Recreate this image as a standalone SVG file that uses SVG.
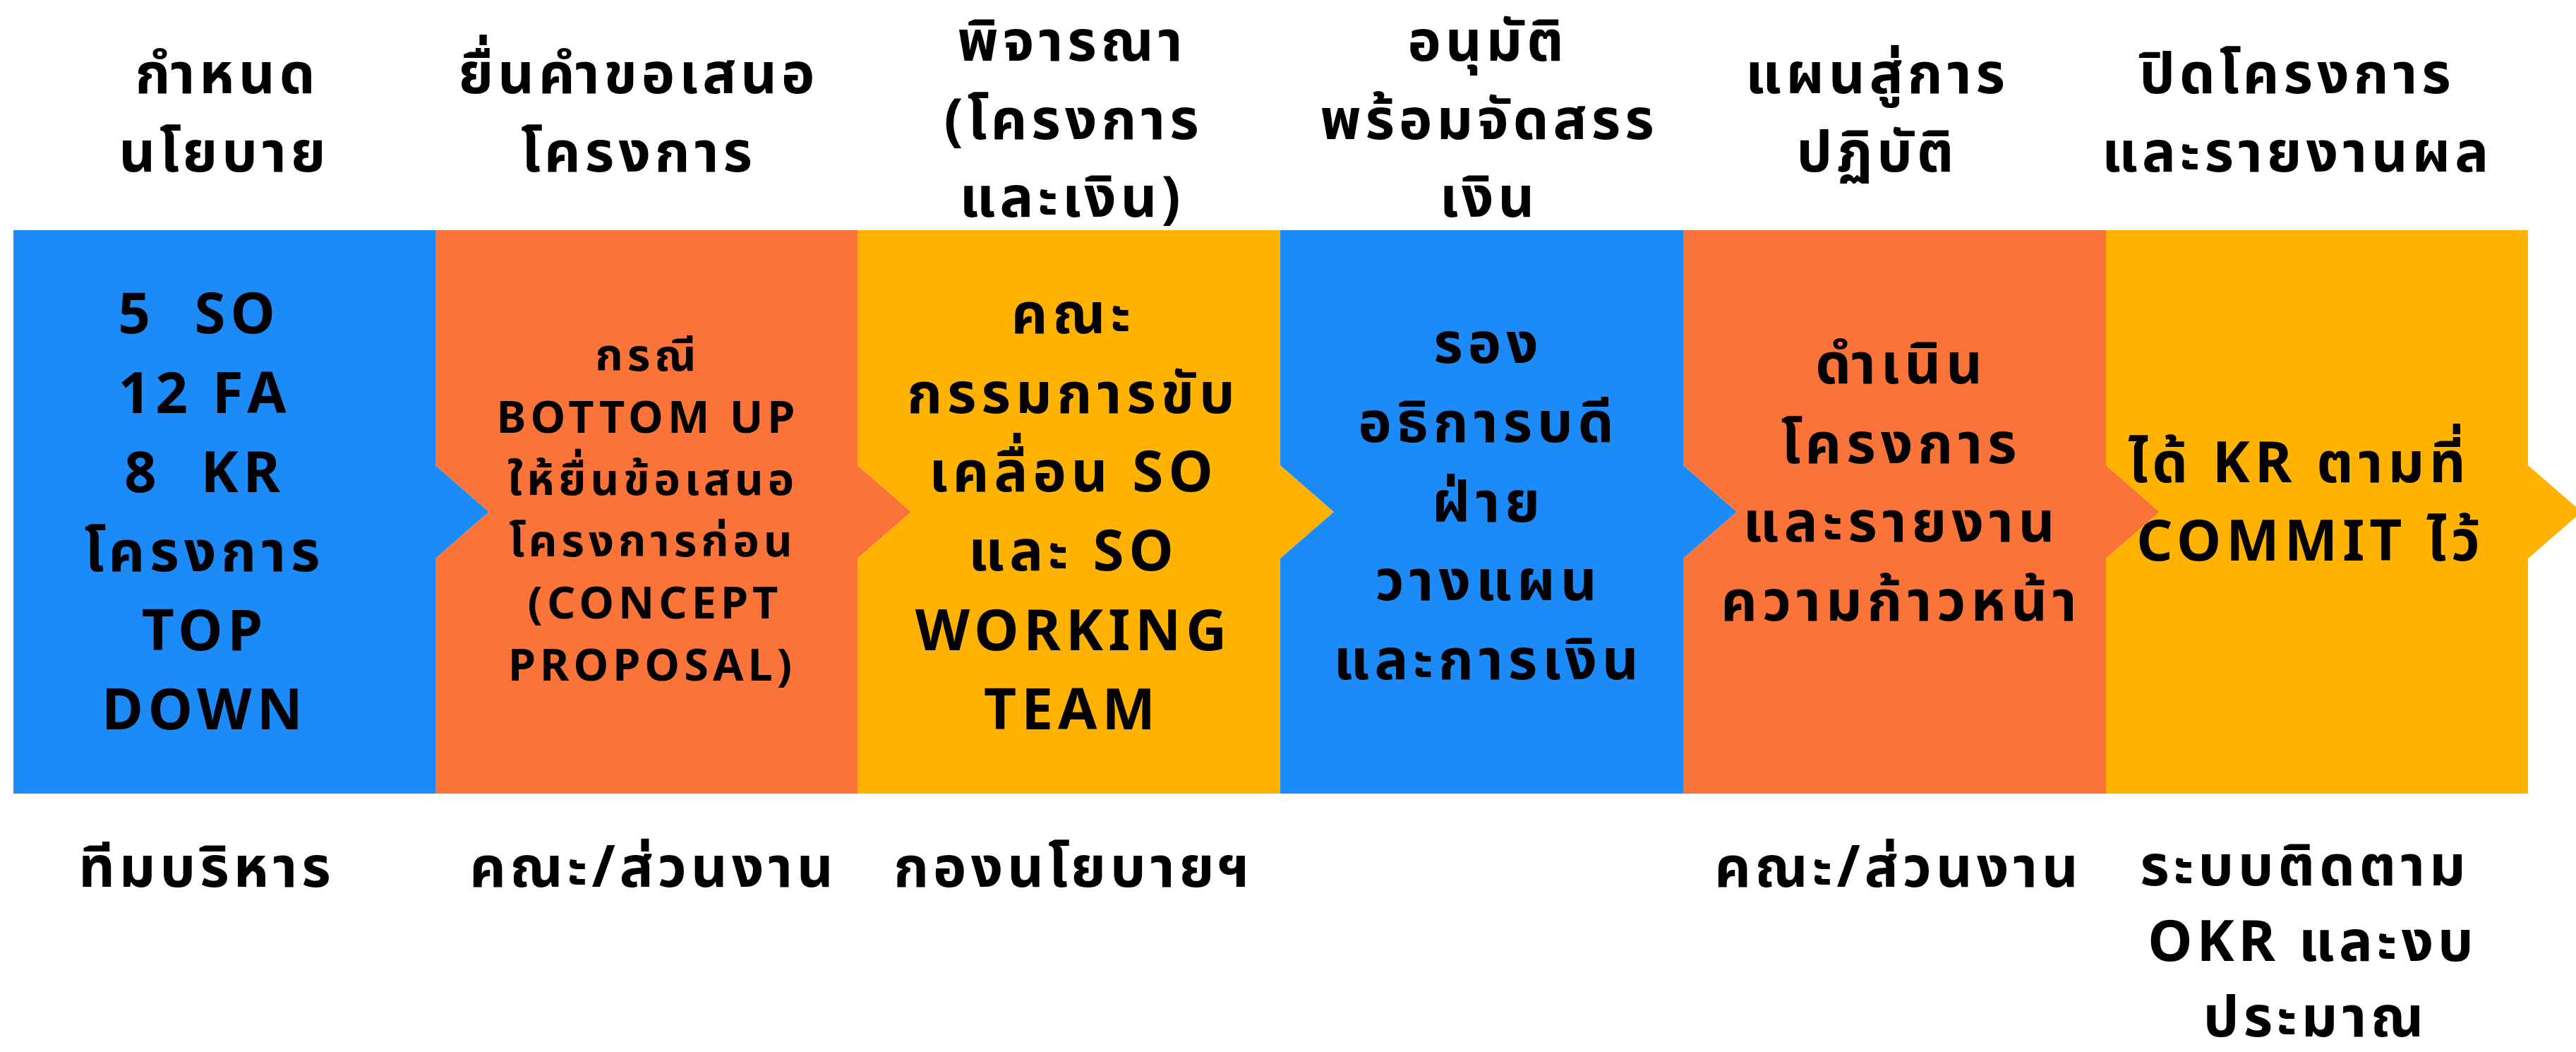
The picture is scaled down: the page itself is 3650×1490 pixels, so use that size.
<svg xmlns="http://www.w3.org/2000/svg" width="3650" height="1490" viewBox="0 0 3650 1490">
<style>
.blue{fill:#1C8AF7}
.orange{fill:#FA743A}
.yellow{fill:#FFB300}
text{fill:#000;font-family:"Noto Sans","Noto Sans Thai","DejaVu Sans",sans-serif;font-weight:700;text-anchor:middle;white-space:pre}
.hd{font-size:80px;letter-spacing:6px}
.bx{font-size:80px;letter-spacing:7px}
.bs{font-size:63px;letter-spacing:6px}
</style>
<rect width="3650" height="1490" fill="#fff"/>
<g id="connectors"/>
<g id="stage1">
<polygon class="blue" points="19,326 617,326 617,659 693,725 617,791 617,1124 19,1124"/>
<text class="hd" x="322" y="132">กำหนด</text>
<text class="hd" x="318" y="243">นโยบาย</text>
<text class="bx" x="282" y="472" xml:space="preserve">5  SO</text>
<text class="bx" x="290" y="585">12 FA</text>
<text class="bx" x="290" y="697" xml:space="preserve">8  KR</text>
<text class="bx" x="290" y="809">โครงการ</text>
<text class="bx" x="290" y="921">TOP</text>
<text class="bx" x="290" y="1033">DOWN</text>
<text class="hd" x="293" y="1256">ทีมบริหาร</text>
</g>
<g id="stage2">
<polygon class="orange" points="617,326 1215,326 1215,659 1291,725 1215,791 1215,1124 617,1124 617,791 693,725 617,659"/>
<text class="hd" x="905" y="132">ยื่นคำขอเสนอ</text>
<text class="hd" x="905" y="243">โครงการ</text>
<text class="bs" x="918" y="525">กรณี</text>
<text class="bs" x="918" y="613">BOTTOM UP</text>
<text class="bs" x="925" y="701">ให้ยื่นข้อเสนอ</text>
<text class="bs" x="925" y="788">โครงการก่อน</text>
<text class="bs" x="928" y="876">(CONCEPT</text>
<text class="bs" x="924" y="964">PROPOSAL)</text>
<text class="hd" x="926" y="1256">คณะ/ส่วนงาน</text>
</g>
<g id="stage3">
<polygon class="yellow" points="1215,326 1814,326 1814,659 1890,725 1814,791 1814,1124 1215,1124 1215,791 1291,725 1215,659"/>
<text class="hd" x="1519" y="86">พิจารณา</text>
<text class="hd" x="1521" y="197">(โครงการ</text>
<text class="hd" x="1519" y="307">และเงิน)</text>
<text class="bx" x="1521" y="472">คณะ</text>
<text class="bx" x="1521" y="585">กรรมการขับ</text>
<text class="bx" x="1521" y="696">เคลื่อน SO</text>
<text class="bx" x="1521" y="808">และ SO</text>
<text class="bx" x="1521" y="921">WORKING</text>
<text class="bx" x="1519" y="1033">TEAM</text>
<text class="hd" x="1521" y="1256">กองนโยบายฯ</text>
</g>
<g id="stage4">
<polygon class="blue" points="1814,326 2385,326 2385,659 2461,725 2385,791 2385,1124 1814,1124 1814,791 1890,725 1814,659"/>
<text class="hd" x="2108" y="86">อนุมัติ</text>
<text class="hd" x="2110" y="197">พร้อมจัดสรร</text>
<text class="hd" x="2110" y="307">เงิน</text>
<text class="bx" x="2109" y="514">รอง</text>
<text class="bx" x="2109" y="626">อธิการบดี</text>
<text class="bx" x="2109" y="739">ฝ่าย</text>
<text class="bx" x="2109" y="850">วางแผน</text>
<text class="bx" x="2109" y="962">และการเงิน</text>
</g>
<g id="stage5">
<polygon class="orange" points="2385,326 2984,326 2984,659 3060,725 2984,791 2984,1124 2385,1124 2385,791 2461,725 2385,659"/>
<text class="hd" x="2660" y="132">แผนสู่การ</text>
<text class="hd" x="2660" y="243">ปฏิบัติ</text>
<text class="bx" x="2694" y="543">ดำเนิน</text>
<text class="bx" x="2694" y="656">โครงการ</text>
<text class="bx" x="2694" y="767">และรายงาน</text>
<text class="bx" x="2694" y="879">ความก้าวหน้า</text>
<text class="hd" x="2690" y="1256">คณะ/ส่วนงาน</text>
</g>
<g id="stage6">
<polygon class="yellow" points="2984,326 3582,326 3582,659 3658,725 3582,791 3582,1124 2984,1124 2984,791 3060,725 2984,659"/>
<text class="hd" x="3255" y="132">ปิดโครงการ</text>
<text class="hd" x="3255" y="243">และรายงานผล</text>
<text class="bx" x="3258" y="683">ได้ KR ตามที่</text>
<text class="bx" x="3274" y="794">COMMIT ไว้</text>
<text class="hd" x="3266" y="1254">ระบบติดตาม</text>
<text class="hd" x="3277" y="1361">OKR และงบ</text>
<text class="hd" x="3281" y="1468">ประมาณ</text>
</g>
</svg>
